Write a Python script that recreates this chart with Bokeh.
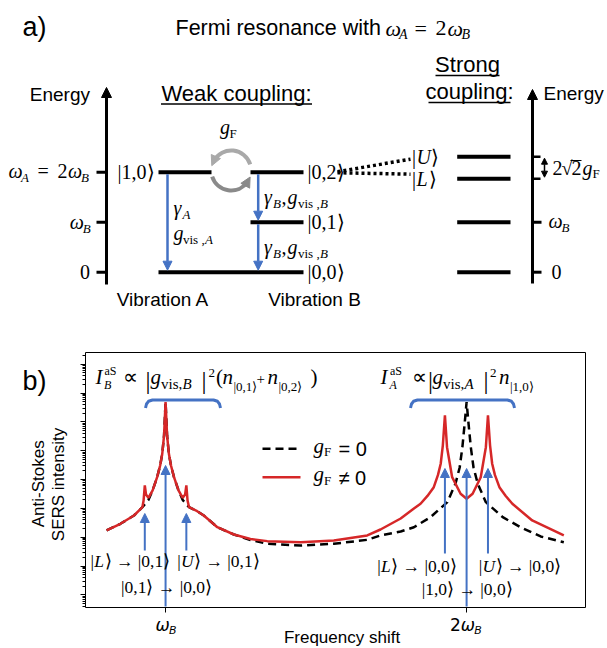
import math
from bokeh.plotting import figure
from bokeh.models import (Range1d, Label, Arrow, NormalHead, FixedTicker, CustomJSTickFormatter,
                          LinearAxis, LogAxis, LogScale)
from bokeh.embed import file_html
from bokeh.resources import INLINE

# ---------------- data: panel a (energies in units of omega_B) ----------------
E_10 = 2.0    # |1,0>   (omega_A = 2 omega_B)
E_02 = 2.0    # |0,2>
E_01 = 1.0    # |0,1>
E_00 = 0.0    # |0,0>
E_U = 2.31    # |U>
E_L = 1.87    # |L>
weak_A_levels = [E_10]
weak_B_levels = [E_02, E_01]
ground_levels = [E_00]
strong_levels = [E_U, E_L, E_01, E_00]
left_axis_ticks = [E_00, E_01, E_10]
right_axis_ticks = [E_00, E_01]
split_ticks = [E_L, E_U]

# ---------------- data: panel b (frequency in units of omega_B) ----------------
freq_gF0 = [0.804, 0.850, 0.895, 0.923, 0.943, 0.957, 0.972, 0.982, 0.989, 0.995, 1.000,
            1.005, 1.011, 1.018, 1.028, 1.043, 1.057, 1.078, 1.105, 1.127, 1.172, 1.227,
            1.282, 1.338, 1.449, 1.559, 1.670, 1.714, 1.781, 1.825, 1.880, 1.936, 1.963,
            1.977, 1.986, 1.993, 2.000, 2.007, 2.014, 2.023, 2.037, 2.064, 2.120, 2.179,
            2.246, 2.323]
int_gF0 = [171, 292, 566, 1100, 1960, 4190, 12100, 30900, 78700, 340000, 4880000,
           340000, 78700, 30900, 12100, 4190, 1960, 1100, 800, 566, 222, 124,
           80, 59, 51, 59, 81, 115, 158, 222, 495, 1640, 7150,
           26300, 133000, 755000, 4880000, 755000, 133000, 26300, 7150, 1640, 495, 222,
           106, 67]
freq_gF = [0.804, 0.850, 0.895, 0.923, 0.927, 0.931, 0.935, 0.943, 0.957, 0.972, 0.982,
           0.989, 0.995, 1.000, 1.005, 1.011, 1.018, 1.028, 1.043, 1.057, 1.065, 1.069,
           1.073, 1.078, 1.105, 1.127, 1.172, 1.227, 1.282, 1.338, 1.449, 1.559, 1.670,
           1.714, 1.781, 1.825, 1.847, 1.870, 1.891, 1.905, 1.914, 1.921, 1.928, 1.935,
           1.952, 1.980, 2.000, 2.020, 2.047, 2.064, 2.071, 2.078, 2.085, 2.094, 2.109,
           2.130, 2.152, 2.218, 2.323]
int_gF = [171, 292, 566, 1100, 1880, 6240, 3040, 2330, 4190, 12100, 30900,
          78700, 340000, 4880000, 340000, 78700, 30900, 12100, 4190, 2330, 3040, 6240,
          1880, 1100, 800, 566, 222, 124, 87, 73, 67, 77, 115,
          185, 446, 990, 1445, 2700, 5440, 14500, 35400, 151000, 1680000, 133000,
          12100, 3210, 2150, 3210, 12100, 133000, 1680000, 151000, 35400, 14500, 5440,
          2700, 1445, 380, 115]
peaks_B = [0.931, 1.000, 1.069]   # |L>->|0,1>, |0,1>->|0,0>, |U>->|0,1>
peaks_A = [1.928, 2.000, 2.071]   # |L>->|0,0>, |1,0>->|0,0>, |U>->|0,0>
x_ticks = [1, 2]
y_decades = [10.0 ** k for k in range(0, 9)]

# ---------------- style / layout ----------------
BLUE = "#4472C4"
RED = "#D62728"
SANS = "Liberation Sans"
SERIF = "Liberation Serif"
MSANS = "DejaVu Sans"
W, H = 607, 648

# panel a: energy 0 at 271.7 px, 50 px per omega_B
E0_PX, PX_PER_E = 271.7, 50.0


def E(py):
    return (E0_PX - py) / PX_PER_E


# panel b plot box and its data limits
FRAME_L, FRAME_R, FRAME_T, FRAME_B = 85, 585, 352, 607
X0, X1 = 0.734, 2.395
Y0, Y1 = 0.363, 2.57e8
LY0, LY1 = math.log10(Y0), math.log10(Y1)
SX = (X1 - X0) / (FRAME_R - FRAME_L)
SY = (LY1 - LY0) / (FRAME_B - FRAME_T)
y_minor = [m * 10.0 ** k for k in range(-1, 9) for m in range(2, 10) if Y0 <= m * 10.0 ** k <= Y1]

p = figure(width=W, height=H, x_range=Range1d(0, W), y_range=Range1d(H, 0),
           x_axis_type=None, y_axis_type=None, output_backend="svg",
           toolbar_location=None, min_border=0)
p.outline_line_color = None
p.background_fill_color = "white"
p.border_fill_color = "white"
p.extra_y_ranges = {
    "energy": Range1d(E(H), E(0)),
    "int": Range1d(10 ** (LY0 - (H - FRAME_B) * SY), 10 ** (LY0 + FRAME_B * SY)),
}
p.extra_y_scales = {"int": LogScale()}
p.extra_x_ranges = {"freq": Range1d(X0 - FRAME_L * SX, X1 + (W - FRAME_R) * SX)}


def label(x, y, text, size, font=SERIF, style="normal", align="left",
          baseline="alphabetic", angle=0.0, color="black", y_range_name="default"):
    # positions are given for the alphabetic baseline; anchor at the middle of the em box
    if baseline == "alphabetic":
        y = y - 0.34 * size
        baseline = "middle"
    p.add_layout(Label(x=x, y=y, text=text, text_font=font, text_font_size=f"{size}px",
                       text_font_style=style, text_align=align, text_baseline=baseline,
                       angle=angle, text_color=color, y_range_name=y_range_name))


def tE(px, e, text, size, **kw):
    label(px, e, text, size, y_range_name="energy", baseline="middle", **kw)


# ======================= panel a =======================
COL_A = (158, 211)
COL_B = (250, 303)
COL_S = (456.7, 510)
LV = dict(line_width=4, line_color="black", y_range_name="energy")
p.segment(x0=[COL_A[0]] * len(weak_A_levels), x1=[COL_A[1]] * len(weak_A_levels),
          y0=weak_A_levels, y1=weak_A_levels, **LV)
p.segment(x0=[COL_B[0]] * len(weak_B_levels), x1=[COL_B[1]] * len(weak_B_levels),
          y0=weak_B_levels, y1=weak_B_levels, **LV)
p.segment(x0=[COL_A[0]], x1=[COL_B[1]], y0=ground_levels, y1=ground_levels, **LV)
p.segment(x0=[COL_S[0]] * len(strong_levels), x1=[COL_S[1]] * len(strong_levels),
          y0=strong_levels, y1=strong_levels, **LV)

# energy axes
for xa, p0, p1 in [(106, 284, 87), (532, 283, 89)]:
    p.add_layout(Arrow(end=NormalHead(size=10, fill_color="black", line_color="black"),
                       x_start=xa, y_start=p0, x_end=xa, y_end=p1,
                       line_width=3, line_color="black"))
p.segment(x0=[96] * 3, x1=[106] * 3, y0=left_axis_ticks, y1=left_axis_ticks,
          line_width=3, line_color="black", y_range_name="energy")
p.segment(x0=[532] * 2, x1=[541] * 2, y0=right_axis_ticks, y1=right_axis_ticks,
          line_width=3, line_color="black", y_range_name="energy")
p.segment(x0=[532] * 2, x1=[540] * 2, y0=split_ticks, y1=split_ticks,
          line_width=2.5, line_color="black", y_range_name="energy")
p.add_layout(Arrow(start=NormalHead(size=6, fill_color="black"),
                   end=NormalHead(size=6, fill_color="black"),
                   x_start=544, y_start=E_L + 0.03, x_end=544, y_end=E_U - 0.03,
                   line_width=1.5, line_color="black", y_range_name="energy"))

# decay arrows
for x, e0, e1 in [(167, E_10, E_00), (257.7, E_02, E_01), (257.7, E_01, E_00)]:
    p.add_layout(Arrow(end=NormalHead(size=9, fill_color=BLUE, line_color=BLUE),
                       x_start=x, y_start=e0 - 0.04, x_end=x, y_end=e1 + 0.04,
                       line_color=BLUE, line_width=2.5, y_range_name="energy"))

# Fermi coupling circular arrows
CX, CY, R = 230.7, 170.0, 20
p.arc(x=[CX], y=[E(CY)], radius=R, start_angle=math.radians(18), end_angle=math.radians(150),
      line_width=4, line_color="#a9a9a9", y_range_name="energy")
p.arc(x=[CX], y=[E(CY)], radius=R, start_angle=math.radians(198), end_angle=math.radians(325),
      line_width=4, line_color="#8a8a8a", y_range_name="energy")


def circ(deg):
    a = math.radians(deg)
    return CX + R * math.cos(a), CY - R * math.sin(a)


for d0, d1, col in [(146, 166, "#a9a9a9"), (321, 341, "#8a8a8a")]:
    (xa, ya), (xb, yb) = circ(d0), circ(d1)
    p.add_layout(Arrow(end=NormalHead(size=10, fill_color=col, line_color=col),
                       x_start=xa, y_start=ya, x_end=xb, y_end=yb, line_alpha=0))

# dotted correlation lines
p.segment(x0=[337, 337], y0=[E_02 + 0.01, E_02 - 0.01], x1=[410, 410],
          y1=[E_U - 0.05, E_L + 0.09], line_dash="3 3", line_width=3.5,
          line_color="black", y_range_name="energy")

# underlines
p.segment(x0=[160.5, 435, 428], x1=[311.5, 499, 510], y0=[103.5, 75, 102],
          y1=[103.5, 75, 102], line_width=1.5, line_color="black")

# texts
label(22, 36, "a)", 27, font=SANS)
label(175, 35, "Fermi resonance with", 21.5, font=SANS)
label(385, 35, "ω", 22, style="italic")
label(398.5, 39, "A", 14, style="italic")
label(414, 35, "=", 22)
label(435, 35, "2", 22)
label(447, 35, "ω", 22, style="italic")
label(461, 39, "B", 14, style="italic")

label(89.5, 100, "Energy", 19, font=SANS, align="right")
label(236, 100, "Weak coupling:", 22, font=SANS, align="center")
label(467, 71, "Strong", 22, font=SANS, align="center")
label(469, 98, "coupling:", 22, font=SANS, align="center")
label(543, 99, "Energy", 19, font=SANS)

label(8, 177.5, "ω", 20, style="italic")
label(20.5, 181, "A", 13, style="italic")
label(37, 177.5, "=", 20)
label(57, 177.5, "2", 20)
label(67.5, 177.5, "ω", 20, style="italic")
label(80.5, 181, "B", 13, style="italic")
label(69.3, 228.5, "ω", 20, style="italic")
label(82.3, 232, "B", 13, style="italic")
label(89.5, 278.5, "0", 20, align="right")

tE(154, E_10, "|1,0⟩", 20, align="right")
tE(307, E_02, "|0,2⟩", 20)
tE(307, E_01, "|0,1⟩", 20)
tE(307, E_00, "|0,0⟩", 20)
tE(411.5, E_U, "|", 20)
tE(416, E_U, "U", 20, style="italic")
tE(430.5, E_U, "⟩", 20)
tE(411.5, E_L, "|", 20)
tE(416, E_L, "L", 20, style="italic")
tE(428, E_L, "⟩", 20)

label(173, 214, "γ", 20, style="italic")
label(182, 218, "A", 13, style="italic")
label(173, 239, "g", 20, style="italic")
label(182.5, 243, "vis ,", 13)
label(204.5, 243, "A", 13, style="italic")
for yb in (203, 253):
    label(263.5, yb, "γ", 20, style="italic")
    label(272.5, yb + 4, "B", 13, style="italic")
    label(281, yb, ",", 20)
    label(287, yb, "g", 20, style="italic")
    label(297.5, yb + 4, "vis ,", 13)
    label(319.5, yb + 4, "B", 13, style="italic")

label(219.5, 133, "g", 20, style="italic")
label(229, 137, "F", 13)

label(548, 227.5, "ω", 20, style="italic")
label(561, 231, "B", 13, style="italic")
label(551, 278.5, "0", 20)
label(552, 174.5, "2", 20)
label(561, 174.5, "√", 20)
label(571, 174.5, "2", 20)
p.segment(x0=[570], x1=[581], y0=[160], y1=[160], line_width=1, line_color="black")
label(582, 174.5, "g", 20, style="italic")
label(592, 177.5, "F", 13)

label(162.5, 305, "Vibration A", 19, font=SANS, align="center")
label(314, 305, "Vibration B", 19, font=SANS, align="center")

# ======================= panel b =======================
NOLAB = dict(formatter=CustomJSTickFormatter(code="return ''"), major_label_text_font_size="0px",
             major_label_standoff=0, major_tick_out=0, minor_tick_out=0,
             axis_line_color="black", axis_line_width=1,
             major_tick_line_color="black", minor_tick_line_color="black")
yax = LogAxis(y_range_name="int", fixed_location=FRAME_L, bounds=(Y0, Y1),
              ticker=FixedTicker(ticks=y_decades, minor_ticks=y_minor),
              major_tick_in=5, minor_tick_in=3, **NOLAB)
p.add_layout(yax, "right")
xax = LinearAxis(x_range_name="freq", fixed_location=FRAME_B, bounds=(X0, X1),
                 ticker=FixedTicker(ticks=x_ticks), major_tick_in=5, minor_tick_in=0, **NOLAB)
xax.minor_tick_line_color = None
p.add_layout(xax, "above")
tax = LinearAxis(x_range_name="freq", fixed_location=FRAME_T, bounds=(X0, X1),
                 ticker=FixedTicker(ticks=[]), major_tick_in=0, minor_tick_in=0, **NOLAB)
p.add_layout(tax, "below")
rax = LinearAxis(fixed_location=FRAME_R, bounds=(FRAME_T, FRAME_B),
                 ticker=FixedTicker(ticks=[]), major_tick_in=0, minor_tick_in=0, **NOLAB)
p.add_layout(rax, "left")

p.line(freq_gF0, int_gF0, line_color="black", line_width=2.5, line_dash="8 5",
       x_range_name="freq", y_range_name="int")
p.line(freq_gF, int_gF, line_color=RED, line_width=2.5,
       x_range_name="freq", y_range_name="int")


def up_arrow(f, py0, py1):
    p.add_layout(Arrow(end=NormalHead(size=9, fill_color=BLUE, line_color=BLUE),
                       x_start=f, y_start=py0, x_end=f, y_end=py1,
                       line_color=BLUE, line_width=2, x_range_name="freq"))


up_arrow(peaks_B[0], 550, 513)
up_arrow(peaks_B[1], 606, 465)
up_arrow(peaks_B[2], 550, 513)
up_arrow(peaks_A[0], 553, 468)
up_arrow(peaks_A[1], 606, 468)
up_arrow(peaks_A[2], 553, 468)


def brace(x0, x1, y):
    xs = [x0, x0 + 1, x0 + 3, x0 + 7, x1 - 7, x1 - 3, x1 - 1, x1]
    ys = [y + 8, y + 4, y + 1.3, y, y, y + 1.3, y + 4, y + 8]
    p.line(xs, ys, line_color=BLUE, line_width=3, line_join="round")


brace(145, 220, 399.5)
brace(410, 514, 399.5)

# legend
p.line([262, 297], [448.3, 448.3], line_color="black", line_width=2.5, line_dash="8 5")
p.line([262, 300], [476.7, 476.7], line_color=RED, line_width=2.5)
label(313, 452.5, "g", 21, style="italic")
label(323.5, 455.5, "F", 13)
label(338, 455.5, "= 0", 20, font=SANS)
label(313, 481, "g", 21, style="italic")
label(323.5, 484, "F", 13)
label(338, 484, "≠ 0", 20, font=SANS)

# formulas
label(95, 383.5, "I", 21, style="italic")
label(104, 375, "aS", 12)
label(103.5, 388.5, "B", 12, style="italic")
label(122, 383.5, "∝", 21)
label(145, 388, "|", 25)
label(150, 383.5, "g", 21, style="italic")
label(160.5, 388.5, "vis,", 15)
label(182, 388.5, "B", 15, style="italic")
label(201, 388, "|", 25)
label(208, 377, "2", 13)
label(215.5, 383.5, "(", 21)
label(222, 383.5, "n", 21, style="italic")
label(233, 390, "|0,1⟩", 13)
label(256, 383.5, "+", 15)
label(267, 383.5, "n", 21, style="italic")
label(278, 390, "|0,2⟩", 13)
label(310, 383.5, ")", 21)

label(380, 383.5, "I", 21, style="italic")
label(389.5, 375, "aS", 12)
label(389, 388.5, "A", 12, style="italic")
label(411.5, 383.5, "∝", 21)
label(427.5, 388, "|", 25)
label(432, 383.5, "g", 21, style="italic")
label(442.5, 388.5, "vis,", 15)
label(464, 388.5, "A", 15, style="italic")
label(483, 388, "|", 25)
label(489.5, 377, "2", 13)
label(498.5, 383.5, "n", 21, style="italic")
label(509.5, 390, "|1,0⟩", 13)


def ket_label(x0, pyc, letter, rest, size=17.5):
    w = 10.2 if letter == "L" else 13.0
    label(x0, pyc, "|", size, baseline="middle")
    label(x0 + 3.8, pyc, letter, size, style="italic", baseline="middle")
    label(x0 + 3.8 + w, pyc, rest, size, baseline="middle")


ket_label(90, 560, "L", "⟩ → |0,1⟩")
ket_label(176.7, 560, "U", "⟩ → |0,1⟩")
label(166, 586.7, "|0,1⟩ → |0,0⟩", 17.5, align="center", baseline="middle")
ket_label(376.7, 565, "L", "⟩ → |0,0⟩")
ket_label(478.3, 565, "U", "⟩ → |0,0⟩")
label(466.7, 588.3, "|1,0⟩ → |0,0⟩", 17.5, align="center", baseline="middle")

# axis texts
label(22, 390, "b)", 27, font=SANS)
label(38.3, 483.3, "Anti-Stokes", 17, font=SANS, align="center", baseline="middle", angle=math.pi / 2)
label(58.3, 484, "SERS intensity", 17, font=SANS, align="center", baseline="middle", angle=math.pi / 2)
label(341.5, 637, "Frequency shift", 17, font=SANS, align="center", baseline="middle")
label(155, 630, "ω", 17, font=MSANS, style="italic")
label(168.5, 634, "B", 11, font=MSANS, style="italic")
label(449.5, 630, "2", 17, font=MSANS)
label(460.3, 630, "ω", 17, font=MSANS, style="italic")
label(473.7, 634, "B", 11, font=MSANS, style="italic")

open("out.html", "w").write(file_html(p, INLINE))
